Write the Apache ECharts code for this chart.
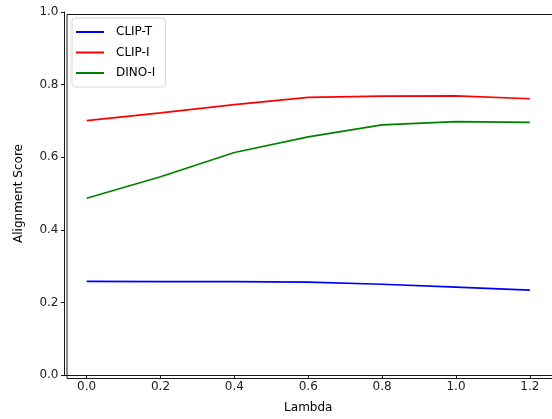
<!DOCTYPE html>
<html><head><meta charset="utf-8">
<script src="https://cdn.jsdelivr.net/npm/echarts@6/dist/echarts.min.js"></script>
<style>html,body{margin:0;padding:0;background:#fff}#c{width:552px;height:419px}</style>
</head><body><div id="c"></div>
<script>
const lambdas = [0.0, 0.2, 0.4, 0.6, 0.8, 1.0, 1.2];
const clipT = [0.258, 0.257, 0.257, 0.256, 0.250, 0.242, 0.234];
const clipI = [0.701, 0.722, 0.745, 0.765, 0.768, 0.769, 0.761];
const dinoI = [0.487, 0.546, 0.613, 0.656, 0.689, 0.698, 0.696];
const xTicks = [0.0, 0.2, 0.4, 0.6, 0.8, 1.0, 1.2];

const font = 'DejaVu Sans';
const chart = echarts.init(document.getElementById('c'), null, {renderer: 'canvas'});
const pair = v => lambdas.map((x, i) => [x, v[i]]);
const mk = (name, data, color) => ({
  name, type: 'line', data: pair(data), symbol: 'none', animation: false,
  lineStyle: {color, width: 1.7}, itemStyle: {color}
});
chart.setOption({
  animation: false,
  grid: {left: 64.5, right: -0.5, top: 12, bottom: 43, containLabel: false},
  legend: {
    orient: 'vertical', left: 72, top: 18,
    icon: 'rect', itemWidth: 28, itemHeight: 2, itemGap: 6.5,
    padding: [7, 10, 7, 4],
    borderColor: '#d5d5d5', borderWidth: 1, borderRadius: 3, backgroundColor: '#fff',
    textStyle: {fontFamily: font, fontSize: 12, color: '#000', padding: [0, 0, 0, 7], lineHeight: 14},
    data: ['CLIP-T', 'CLIP-I', 'DINO-I']
  },
  xAxis: {
    type: 'value', min: -0.06, max: 1.26,
    name: 'Lambda', nameLocation: 'middle', nameGap: 27,
    nameTextStyle: {fontFamily: font, fontSize: 12, color: '#000'},
    axisLine: {show: true, onZero: false, lineStyle: {color: '#000', width: 0.9}},
    axisTick: {show: true, length: 3.5, lineStyle: {color: '#000', width: 0.9}, customValues: xTicks},
    axisLabel: {fontFamily: font, fontSize: 12, color: '#222', margin: 6, customValues: xTicks,
      formatter: v => v.toFixed(1)},
    splitLine: {show: false}
  },
  yAxis: {
    type: 'value', min: 0, max: 1, interval: 0.2,
    name: 'Alignment Score', nameLocation: 'middle', nameGap: 40, nameRotate: 90,
    nameTextStyle: {fontFamily: font, fontSize: 12, color: '#000'},
    axisLine: {show: true, onZero: false, lineStyle: {color: '#000', width: 0.9}},
    axisTick: {show: true, length: 3.5, lineStyle: {color: '#000', width: 0.9}},
    axisLabel: {fontFamily: font, fontSize: 12, color: '#222', margin: 6, verticalAlign: 'middle',
      formatter: v => v.toFixed(1)},
    splitLine: {show: false}
  },
  series: [
    mk('CLIP-T', clipT, '#0000ff'),
    mk('CLIP-I', clipI, '#ff0000'),
    mk('DINO-I', dinoI, '#008000')
  ],
  graphic: [{
    type: 'rect', left: 64.5, top: 12, shape: {width: 488, height: 364},
    style: {fill: 'none', stroke: '#000', lineWidth: 0.9}, silent: true, z: 10
  }]
});
</script></body></html>
